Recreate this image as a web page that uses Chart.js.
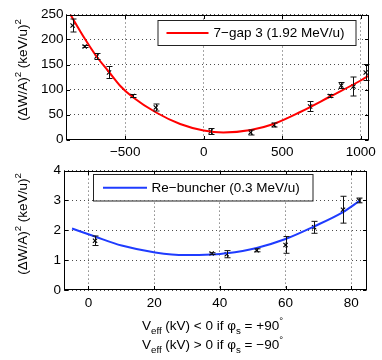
<!DOCTYPE html>
<html><head><meta charset="utf-8">
<script src="https://cdn.jsdelivr.net/npm/chart.js@4.4.1/dist/chart.umd.min.js"></script>
<style>
html,body{margin:0;padding:0;background:#fff;}
#wrap{position:relative;width:382px;height:360px;overflow:hidden;background:#fff;}
#c1{position:absolute;left:0;top:0;width:382px;height:160px;}
#c2{position:absolute;left:0;top:160px;width:382px;height:200px;}
</style></head><body>
<div id="wrap"><canvas id="c1" width="382" height="160"></canvas><canvas id="c2" width="382" height="200"></canvas></div>
<script>
// ---------- data: top panel (7-gap 3) ----------
const topVolt = [-835, -758, -682, -603, -453, -305, 45, 299, 448, 678, 804, 876, 954, 1032];
const topSpread = [228, 186, 166, 134, 87, 64, 16, 14, 29, 66, 87, 108, 106, 134];
const topError = [13, 2, 6, 12, 3, 7, 6, 5, 4, 10, 3, 6, 19, 16];
const topFitVolt = [-849, -760, -682, -603, -531, -453, -303, -150, 0, 125, 300, 445, 615, 800, 1000, 1053];
const topFitSpread = [250, 203, 166, 135, 107, 85, 54, 31, 18, 14, 19, 31, 55, 85, 118, 128];
const topXTicks = [-500, 0, 500, 1000];
const topYTicks = [0, 50, 100, 150, 200, 250];
const topLabel = '7\u2212gap 3 (1.92 MeV/u)';

// ---------- data: bottom panel (Re-buncher) ----------
const botVolt = [2.0, 37.5, 42.1, 51.2, 60.0, 68.7, 77.5, 82.4];
const botSpread = [1.65, 1.22, 1.20, 1.33, 1.51, 2.10, 2.69, 3.00];
const botError = [0.16, 0.03, 0.12, 0.05, 0.28, 0.20, 0.45, 0.08];
const botFitVolt = [-5.0, 2.0, 10.1, 20.3, 29.4, 37.5, 42.1, 51.2, 60.0, 68.7, 77.5, 82.6];
const botFitSpread = [2.06, 1.79, 1.49, 1.26, 1.17, 1.19, 1.23, 1.41, 1.71, 2.13, 2.61, 2.99];
const botXTicks = [0, 20, 40, 60, 80];
const botYTicks = [0, 1, 2, 3, 4];
const botLabel = 'Re\u2212buncher (0.3 MeV/u)';

const FONT = "'Liberation Sans', Arial, Helvetica, sans-serif";
const FS = 13.5;

function fmt(v){ return v < 0 ? '\u2212' + Math.abs(v) : String(v); }

function drawRich(ctx, pieces, x, y, align, size){
  let w = 0;
  const meas = pieces.map(p => {
    const s = p.k === 'n' ? size : size * 0.72;
    ctx.font = s + 'px ' + FONT;
    const m = ctx.measureText(p.t).width;
    w += m; return {p, s, m};
  });
  let cx = align === 'center' ? x - w / 2 : x;
  ctx.textAlign = 'left'; ctx.textBaseline = 'alphabetic';
  meas.forEach(o => {
    ctx.font = o.s + 'px ' + FONT;
    let dy = 0;
    if (o.p.k === 'sub') dy = size * 0.32;
    if (o.p.k === 'sup') dy = -size * 0.42;
    ctx.fillText(o.p.t, cx, y + dy);
    cx += o.m;
  });
}

const yTitle = [{t:'(\u0394W/A)',k:'n'},{t:'2',k:'sup'},{t:' (keV/u)',k:'n'},{t:'2',k:'sup'}];

function makeExtras(cfg){
  return {
    id: 'extras',
    afterDatasetsDraw(chart){
      const ctx = chart.ctx, xs = chart.scales.x, ys = chart.scales.y;
      ctx.save();
      ctx.strokeStyle = '#111'; ctx.lineWidth = 1;
      cfg.px.forEach((xv, i) => {
        const x = Math.round(xs.getPixelForValue(xv)) + 0.5;
        const y1 = ys.getPixelForValue(cfg.py[i] + cfg.pe[i]);
        const y2 = ys.getPixelForValue(cfg.py[i] - cfg.pe[i]);
        ctx.beginPath();
        ctx.moveTo(x, y1); ctx.lineTo(x, y2);
        ctx.moveTo(x - 3, y1); ctx.lineTo(x + 3, y1);
        ctx.moveTo(x - 3, y2); ctx.lineTo(x + 3, y2);
        ctx.stroke();
      });
      ctx.restore();
    },
    afterDraw(chart){
      const ctx = chart.ctx, a = chart.chartArea, xs = chart.scales.x, ys = chart.scales.y;
      ctx.save();
      ctx.strokeStyle = '#000'; ctx.lineWidth = 1;
      const L = Math.round(a.left) + 0.5, R = Math.round(a.right) - 0.5, T = Math.round(a.top) + 0.5, B = Math.round(a.bottom) - 0.5;
      ctx.strokeRect(L, T, R - L, B - T);
      const tl = 3.5;
      ctx.beginPath();
      xs.ticks.forEach(t => {
        const x = Math.round(xs.getPixelForValue(t.value)) + 0.5;
        ctx.moveTo(x, B); ctx.lineTo(x, B - tl);
        ctx.moveTo(x, T); ctx.lineTo(x, T + tl);
      });
      ys.ticks.forEach(t => {
        const y = Math.round(ys.getPixelForValue(t.value)) + 0.5;
        ctx.moveTo(L, y); ctx.lineTo(L + tl, y);
        ctx.moveTo(R, y); ctx.lineTo(R - tl, y);
      });
      ctx.stroke();
      const lg = cfg.legend;
      ctx.fillStyle = '#fff';
      ctx.fillRect(lg.x, lg.y, lg.w, lg.h);
      ctx.strokeStyle = '#222'; ctx.lineWidth = 1;
      ctx.strokeRect(lg.x + 0.5, lg.y + 0.5, lg.w, lg.h);
      ctx.strokeStyle = cfg.color; ctx.lineWidth = 2;
      ctx.beginPath();
      ctx.moveTo(lg.x + lg.l1, lg.y + lg.h / 2 + 0.5); ctx.lineTo(lg.x + lg.l2, lg.y + lg.h / 2 + 0.5);
      ctx.stroke();
      ctx.fillStyle = '#000';
      ctx.font = FS + 'px ' + FONT; ctx.textAlign = 'left'; ctx.textBaseline = 'middle';
      ctx.fillText(cfg.label, lg.x + lg.tx, lg.y + lg.h / 2 + 1);
      ctx.save();
      ctx.translate(cfg.ytx, cfg.yty);
      ctx.rotate(-Math.PI / 2);
      ctx.fillStyle = '#000';
      drawRich(ctx, yTitle, 0, 0, 'center', FS);
      ctx.restore();
      if (cfg.xTitle) {
        cfg.xTitle.forEach(line => drawRich(ctx, line.p, line.x, line.y, 'center', FS));
      }
      ctx.restore();
    }
  };
}

function scales(xmin, xmax, xt, ymin, ymax, yt, yw, xh, xpad){
  return {
    x: {
      type: 'linear', min: xmin, max: xmax,
      afterBuildTicks: s => { s.ticks = xt.map(v => ({value: v})); },
      afterFit: s => { s.height = xh; },
      grid: {color: 'rgba(0,0,0,0.7)', lineWidth: 1, drawTicks: false},
      border: {display: false, dash: [1, 3]},
      ticks: {color: '#000', font: {family: FONT, size: FS}, padding: xpad, maxRotation: 0, autoSkip: false, callback: v => fmt(v)}
    },
    y: {
      type: 'linear', min: ymin, max: ymax,
      afterBuildTicks: s => { s.ticks = yt.map(v => ({value: v})); },
      afterFit: s => { s.width = yw; },
      grid: {color: 'rgba(0,0,0,0.7)', lineWidth: 1, drawTicks: false},
      border: {display: false, dash: [1, 3]},
      ticks: {color: '#000', font: {family: FONT, size: FS}, padding: 2.5, autoSkip: false, callback: v => fmt(v)}
    }
  };
}

function pts(xa, ya){ return xa.map((x, i) => ({x, y: ya[i]})); }

new Chart(document.getElementById('c1'), {
  type: 'scatter',
  data: {datasets: [
    {label: topLabel, type: 'line', data: pts(topFitVolt, topFitSpread), borderColor: '#ff0000', borderWidth: 2, pointRadius: 0, tension: 0.4, cubicInterpolationMode: 'monotone', fill: false, order: 0},
    {label: 'data', data: pts(topVolt, topSpread), pointStyle: 'crossRot', pointRadius: 3, borderColor: '#000', backgroundColor: '#000', borderWidth: 1.1, order: 1}
  ]},
  options: {
    responsive: false, animation: false, devicePixelRatio: 1,
    layout: {padding: {top: 14.5, right: 13, left: 0, bottom: 0}},
    plugins: {legend: {display: false}, tooltip: {enabled: false}},
    scales: scales(-877, 1053, topXTicks, 0, 250, topYTicks, 66, 20.5, 5)
  },
  plugins: [makeExtras({
    px: topVolt, py: topSpread, pe: topError, color: '#ff0000', label: topLabel,
    legend: {x: 157.5, y: 20, w: 198, h: 25, l1: 9, l2: 51, tx: 56},
    ytx: 27, yty: 70
  })]
});

const xTitleLines = [
  {x: 212.5, y: 170, p: [{t:'V',k:'n'},{t:'eff',k:'sub'},{t:' (kV) < 0 if \u03C6',k:'n'},{t:'s',k:'sub'},{t:' = +90',k:'n'},{t:'\u00B0',k:'sup'}]},
  {x: 212.5, y: 188.5, p: [{t:'V',k:'n'},{t:'eff',k:'sub'},{t:' (kV) > 0 if \u03C6',k:'n'},{t:'s',k:'sub'},{t:' = \u221290',k:'n'},{t:'\u00B0',k:'sup'}]}
];
new Chart(document.getElementById('c2'), {
  type: 'scatter',
  data: {datasets: [
    {label: botLabel, type: 'line', data: pts(botFitVolt, botFitSpread), borderColor: '#1f3cff', borderWidth: 2, pointRadius: 0, tension: 0.4, cubicInterpolationMode: 'monotone', fill: false, order: 0},
    {label: 'data', data: pts(botVolt, botSpread), pointStyle: 'crossRot', pointRadius: 3, borderColor: '#000', backgroundColor: '#000', borderWidth: 1.1, order: 1}
  ]},
  options: {
    responsive: false, animation: false, devicePixelRatio: 1,
    layout: {padding: {top: 5, right: 15, left: 0, bottom: 0}},
    plugins: {legend: {display: false}, tooltip: {enabled: false}},
    scales: scales(-7.6, 84.8, botXTicks, 0, 4, botYTicks, 63.5, 70, 5)
  },
  plugins: [makeExtras({
    px: botVolt, py: botSpread, pe: botError, color: '#1f3cff', label: botLabel,
    legend: {x: 93, y: 14, w: 219.5, h: 26.5, l1: 10, l2: 54, tx: 58.5},
    ytx: 27, yty: 64,
    xTitle: xTitleLines
  })]
});
</script>
</body></html>
